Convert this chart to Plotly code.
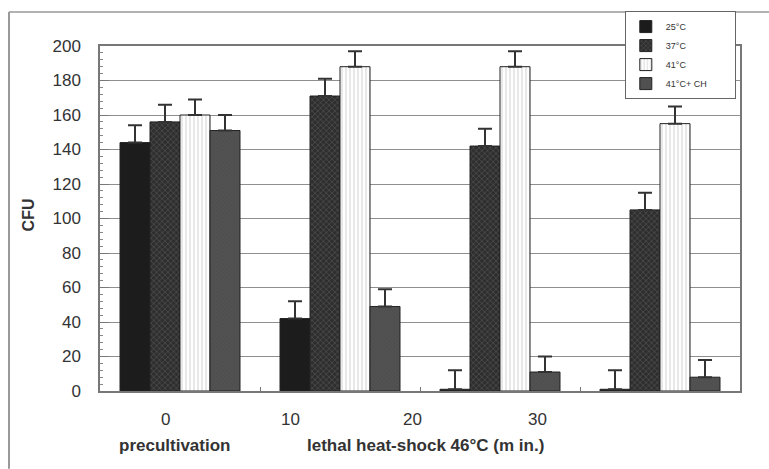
import plotly.graph_objects as go

groups = ["0", "10", "20", "30"]
series_names = ["25°C", "37°C", "41°C", "41°C+ CH"]
vals_25 = [144, 42, 1, 1]
vals_37 = [156, 171, 142, 105]
vals_41 = [160, 188, 188, 155]
vals_ch = [151, 49, 11, 8]
err_25 = [10, 10, 11, 11]
err_37 = [10, 10, 10, 10]
err_41 = [9, 9, 9, 10]
err_ch = [9, 10, 9, 10]

tick_labels = ["0", "10", "20", "30"]
x_captions = ["precultivation", "lethal heat-shock 46°C (m in.)"]

FONT = "Liberation Sans, Arial, sans-serif"

styles = [
    dict(color="#1c1c1c", pattern=None),
    dict(color="#2e2e2e", pattern=dict(shape="x", fgcolor="#8a8a8a", size=4, solidity=0.25)),
    dict(color="#ffffff", pattern=dict(shape="|", fgcolor="#b0b0b0", size=4, solidity=0.3)),
    dict(color="#4f4f4f", pattern=dict(shape="x", fgcolor="#666666", size=3, solidity=0.2)),
]

fig = go.Figure()
for name, vals, errs, st in zip(series_names, [vals_25, vals_37, vals_41, vals_ch],
                                [err_25, err_37, err_41, err_ch], styles):
    marker = dict(color=st["color"], line=dict(color="#222222", width=1))
    if st["pattern"]:
        marker["pattern"] = st["pattern"]
    fig.add_trace(go.Bar(
        x=groups, y=vals, name=name + "\u00a0" * (17 - len(name)), marker=marker,
        error_y=dict(type="data", array=errs, arrayminus=[0]*len(errs), symmetric=False,
                     color="#333333", thickness=2, width=7),
    ))

fig.update_layout(
    width=769, height=469,
    margin=dict(l=100, r=29, t=45, b=78),
    paper_bgcolor="white", plot_bgcolor="white",
    barmode="group", bargap=0.25, bargroupgap=0,
    font=dict(family=FONT, color="#333333"),
    showlegend=True,
    legend=dict(x=0.82, y=1.098, xanchor="left", yanchor="top",
                bgcolor="white", bordercolor="#666666", borderwidth=1,
                font=dict(size=9, family=FONT, color="#333"),
                itemwidth=30, tracegroupgap=0),
)

fig.update_xaxes(
    showticklabels=False, ticks="inside", tickson="boundaries", ticklen=4,
    tickcolor="#777", showline=True, linecolor="#777", linewidth=1.5, mirror=True,
    showgrid=False, range=[-0.5, 3.5],
)
fig.update_yaxes(
    range=[0, 200], dtick=20, ticks="inside", ticklen=9, tickcolor="#777",
    showline=True, linecolor="#777", linewidth=1.5, mirror=True,
    showgrid=True, gridcolor="#8f8f8f", gridwidth=1.2,
    tickfont=dict(size=17, family=FONT, color="#333"),
    ticklabelstandoff=14, zeroline=False,
    minor=dict(dtick=4, ticks="inside", ticklen=3, tickcolor="#888", showgrid=False),
)

# y axis title
fig.add_annotation(text="<b>CFU</b>", x=-0.1125, y=0.509, xref="paper", yref="paper",
                   xanchor="center", yanchor="middle",
                   textangle=-90, showarrow=False, font=dict(size=16, family=FONT, color="#333"))

# x tick labels (offset as in the original)
label_x = [0.1016, 0.297, 0.489, 0.683]
for lx, t in zip(label_x, tick_labels):
    fig.add_annotation(text=t, x=lx, y=-0.084, xref="paper", yref="paper", showarrow=False,
                       xanchor="center", yanchor="middle",
                       font=dict(size=17, family=FONT, color="#333"))
fig.add_annotation(text="<b>" + x_captions[0] + "</b>", x=0.116, y=-0.158, xref="paper", yref="paper",
                   xanchor="center", yanchor="middle",
                   showarrow=False, font=dict(size=17, family=FONT, color="#333"))
fig.add_annotation(text="<b>" + x_captions[1] + "</b>", x=0.508, y=-0.158, xref="paper", yref="paper",
                   xanchor="center", yanchor="middle",
                   showarrow=False, font=dict(size=17, family=FONT, color="#333"))

# outer frame lines
fig.add_shape(type="line", xref="paper", yref="paper", x0=(9-100)/640, x1=(769-100)/640,
              y0=(391-11)/346, y1=(391-11)/346, line=dict(color="#999", width=1.5))
fig.add_shape(type="line", xref="paper", yref="paper", x0=(9-100)/640, x1=(9-100)/640,
              y0=(391-11)/346, y1=(391-469)/346, line=dict(color="#999", width=2))

fig.write_html("out.html")
